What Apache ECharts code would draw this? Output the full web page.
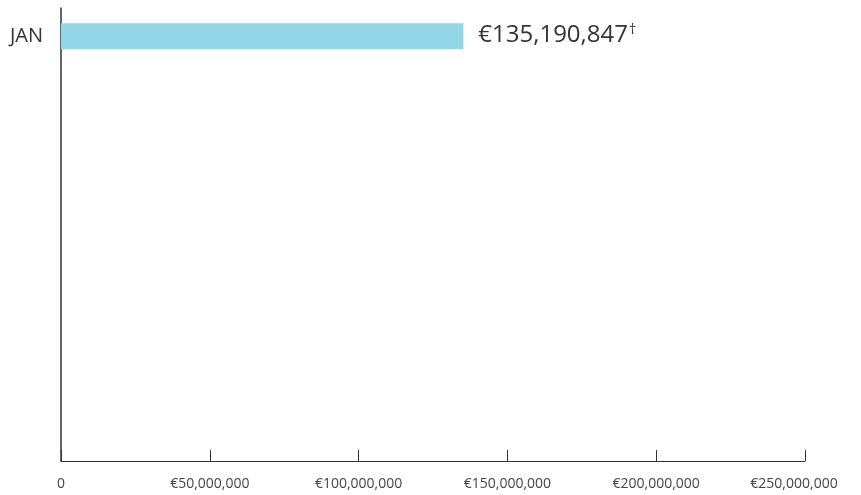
<!DOCTYPE html>
<html><head><meta charset="utf-8">
<script src="https://cdn.jsdelivr.net/npm/echarts@6/dist/echarts.min.js"></script>
<style>html,body{margin:0;padding:0;background:#fff}#c{width:861px;height:495px}</style>
</head><body><div id="c"></div>
<script>
const categories = ['JAN', '', '', '', '', '', '', ''];
const values = [135190847, null, null, null, null, null, null, null];
const valueLabels = ['€135,190,847', '', '', '', '', '', '', ''];
const xTicks = [0, 50000000, 100000000, 150000000, 200000000, 250000000];

function fmtEuro(v) {
  if (v === 0) return '0';
  const s = '€' + v.toLocaleString('en-US');
  return v === xTicks[xTicks.length - 1] ? '{last|' + s + '}' : s;
}

const chart = echarts.init(document.getElementById('c'));
chart.setOption({
  animation: false,
  textStyle: { fontFamily: 'Open Sans' },
  grid: { left: 61, right: 56, top: 8, bottom: 34, containLabel: false },
  xAxis: {
    type: 'value', min: xTicks[0], max: xTicks[xTicks.length - 1], interval: 50000000,
    axisLine: { show: true, lineStyle: { color: '#333', width: 1 } },
    axisTick: { show: true, inside: true, length: 11, lineStyle: { color: '#333' } },
    splitLine: { show: false },
    axisLabel: {
      color: '#444', fontSize: 14, margin: 16, fontFamily: 'Open Sans', formatter: fmtEuro,
      rich: { last: { color: '#444', fontSize: 14, fontFamily: 'Open Sans', padding: [0, 22, 0, 0] } }
    }
  },
  yAxis: {
    type: 'category', data: categories, inverse: true,
    axisLine: { show: true, lineStyle: { color: '#333', width: 1.5 } },
    axisTick: { show: false },
    axisLabel: { color: '#333', fontSize: 20, margin: 18, fontFamily: 'Open Sans', padding: [0, 0, 4, 0] }
  },
  series: [{
    type: 'bar', data: values, barWidth: 26,
    itemStyle: { color: '#92d6e8' },
    label: {
      show: true, position: 'right', distance: 15,
      formatter: p => valueLabels[p.dataIndex] ? '{v|' + valueLabels[p.dataIndex] + '}{s|†}' : '',
      rich: {
        v: { fontSize: 24, color: '#333', fontFamily: 'Open Sans', padding: [0, 0, 2, 0] },
        s: { fontSize: 14, color: '#333', fontFamily: 'Open Sans', verticalAlign: 'top', padding: [0, 0, 12, 1] }
      }
    }
  }]
});
</script></body></html>
